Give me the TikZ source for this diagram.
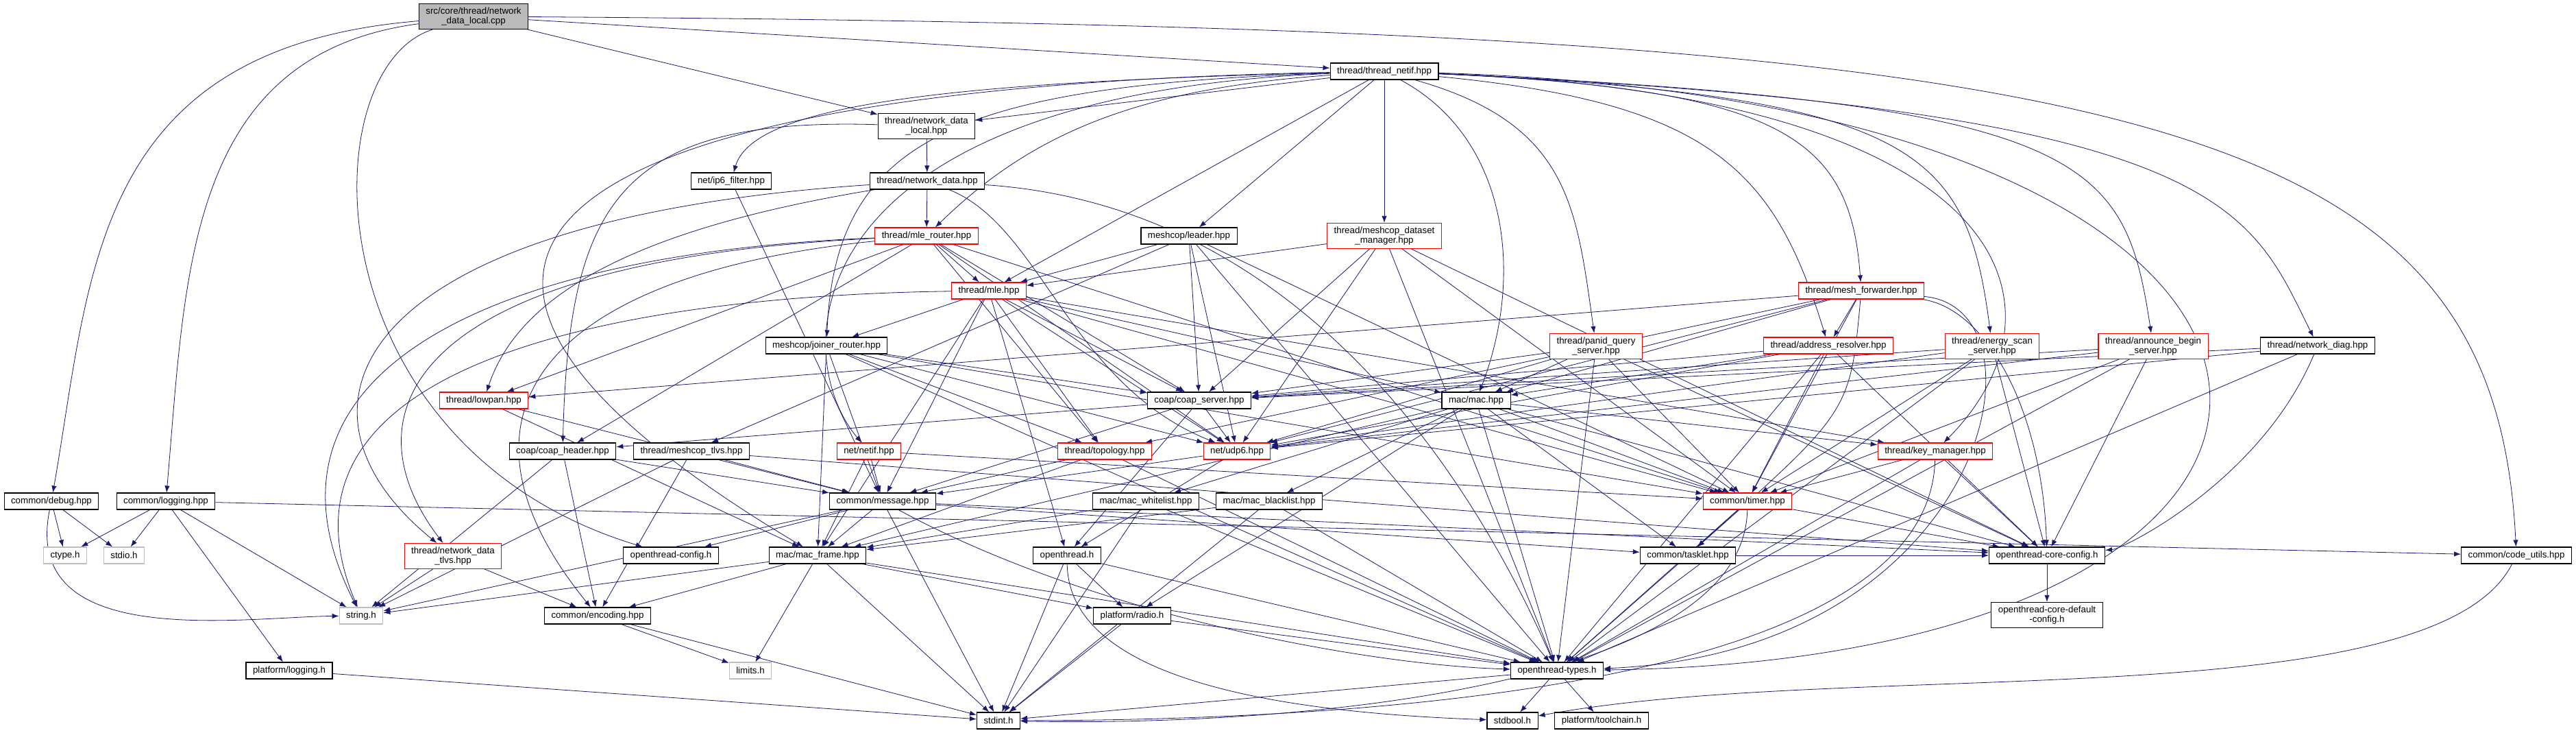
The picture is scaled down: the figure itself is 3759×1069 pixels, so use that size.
\documentclass[tikz,border=0pt]{standalone}
\usepackage{fontspec}
\setmainfont{Liberation Sans}
\usepackage{tikz}
\usetikzlibrary{arrows.meta, backgrounds}

\definecolor{edgeblue}{HTML}{191970}

\begin{document}
\begin{tikzpicture}[
  x=0.75pt, y=-0.75pt,
  file/.style={
    draw=black,
    fill=white,
    line width=0.8pt,
    inner xsep=7.5pt,
    inner ysep=4pt,
    minimum height=18pt,
    align=center,
    font=\fontsize{10}{10.5}\selectfont
  },
  redfile/.style={file, draw=red},
  sysfile/.style={file, draw=black!25},
  rootfile/.style={file, fill=black!27},
  edge/.style={-{Latex[length=7.5pt,width=5.5pt]}, line width=0.6pt, draw=edgeblue}
]
  \useasboundingbox (0,0) rectangle (3759,1069);

  % files, row by row
  \node[rootfile] (src) at (691,24) {src/core/thread/network\\\_data\_local.cpp};
  \node[file] (tnetif) at (2020,104) {thread/thread\_netif.hpp};
  \node[file] (ndlocal) at (1352,184) {thread/network\_data\\\_local.hpp};
  \node[file] (ndata) at (1353,264) {thread/network\_data.hpp};
  \node[file] (ip6f) at (1067,264) {net/ip6\_filter.hpp};
  \node[redfile] (mler) at (1352,344) {thread/mle\_router.hpp};
  \node[file] (leader) at (1735,344) {meshcop/leader.hpp};
  \node[redfile] (dsmgr) at (2020,344) {thread/meshcop\_dataset\\\_manager.hpp};
  \node[redfile] (mle) at (1443,424) {thread/mle.hpp};
  \node[redfile] (meshfw) at (2716,424) {thread/mesh\_forwarder.hpp};
  \node[file] (joinr) at (1206,504) {meshcop/joiner\_router.hpp};
  \node[redfile] (panid) at (2329,505) {thread/panid\_query\\\_server.hpp};
  \node[redfile] (addrres) at (2668,504) {thread/address\_resolver.hpp};
  \node[redfile] (energy) at (2907,505) {thread/energy\_scan\\\_server.hpp};
  \node[redfile] (announce) at (3142,505) {thread/announce\_begin\\\_server.hpp};
  \node[file] (ndiag) at (3382,504) {thread/network\_diag.hpp};
  \node[redfile] (lowpan) at (706,584) {thread/lowpan.hpp};
  \node[file] (coapsrv) at (1750,584) {coap/coap\_server.hpp};
  \node[file] (mac) at (2154,584) {mac/mac.hpp};
  \node[file] (coaphdr) at (821,658) {coap/coap\_header.hpp};
  \node[file] (mctlvs) at (1009,658) {thread/meshcop\_tlvs.hpp};
  \node[redfile] (netif) at (1268,658) {net/netif.hpp};
  \node[redfile] (topo) at (1612,658) {thread/topology.hpp};
  \node[redfile] (udp6) at (1805,658) {net/udp6.hpp};
  \node[redfile] (keymgr) at (2824,658) {thread/key\_manager.hpp};
  \node[file] (debug) at (75,731) {common/debug.hpp};
  \node[file] (logging) at (242,731) {common/logging.hpp};
  \node[file] (message) at (1288,731) {common/message.hpp};
  \node[file] (whitelist) at (1672,731) {mac/mac\_whitelist.hpp};
  \node[file] (blacklist) at (1852,731) {mac/mac\_blacklist.hpp};
  \node[redfile] (timer) at (2550,731) {common/timer.hpp};
  \node[sysfile] (ctype) at (95,810) {ctype.h};
  \node[sysfile] (stdio) at (181,810) {stdio.h};
  \node[redfile] (ndtlvs) at (661,811) {thread/network\_data\\\_tlvs.hpp};
  \node[file] (otconfig) at (979,810) {openthread-config.h};
  \node[file] (macframe) at (1193,810) {mac/mac\_frame.hpp};
  \node[file] (openthread) at (1557,810) {openthread.h};
  \node[file] (tasklet) at (2463,810) {common/tasklet.hpp};
  \node[file] (coreconfig) at (2987,810) {openthread-core-config.h};
  \node[file] (codeutils) at (3672,810) {common/code\_utils.hpp};
  \node[sysfile] (stringh) at (527,898) {string.h};
  \node[file] (encoding) at (872,898) {common/encoding.hpp};
  \node[file] (radio) at (1652,898) {platform/radio.h};
  \node[file] (defconfig) at (2987,897) {openthread-core-default\\-config.h};
  \node[file] (plog) at (422,978) {platform/logging.h};
  \node[sysfile] (limits) at (1095,978) {limits.h};
  \node[file] (types) at (2272,978) {openthread-types.h};
  \node[file] (stdint) at (1457,1051) {stdint.h};
  \node[file] (stdbool) at (2207,1051) {stdbool.h};
  \node[file] (toolchain) at (2337,1051) {platform/toolchain.h};

  \begin{scope}[on background layer]
  \fill[white] (0,0) rectangle (3759,1069);

  % the source file
  \draw[edge] (src) .. controls (133,70) and (133,400) .. (debug);
  \draw[edge] (src) .. controls (271,80) and (271,400) .. (logging);
  \draw[edge] (src) .. controls (452,100) and (452,650) .. (otconfig);
  \draw[edge] (src) -- (tnetif);
  \draw[edge] (src) -- (ndlocal);
  \draw[edge] (src) .. controls (3100,40) and (3640,150) .. (codeutils);

  % thread_netif
  \draw[edge] (tnetif) -- (ndlocal);
  \draw[edge] (tnetif) .. controls (1400,120) and (1100,150) .. (ip6f);
  \draw[edge] (tnetif) .. controls (1400,125) and (1219,200) .. (joinr);
  \draw[edge] (tnetif) .. controls (1150,140) and (1150,520) .. (netif);
  \draw[edge] (tnetif) .. controls (700,130) and (503,400) .. (macframe);
  \draw[edge] (tnetif) .. controls (1650,130) and (1500,200) .. (mler);
  \draw[edge] (tnetif) -- (mle);
  \draw[edge] (tnetif) -- (leader);
  \draw[edge] (tnetif) -- (dsmgr);
  \draw[edge] (tnetif) .. controls (2200,200) and (2225,400) .. (mac);
  \draw[edge] (tnetif) .. controls (2290,180) and (2300,300) .. (panid);
  \draw[edge] (tnetif) .. controls (2500,150) and (2590,250) .. (addrres);
  \draw[edge] (tnetif) .. controls (2600,130) and (2700,200) .. (meshfw);
  \draw[edge] (tnetif) .. controls (2800,140) and (2870,220) .. (energy);
  \draw[edge] (tnetif) .. controls (2950,140) and (3030,450) .. (keymgr);
  \draw[edge] (tnetif) .. controls (3050,150) and (3100,230) .. (announce);
  \draw[edge] (tnetif) .. controls (3250,160) and (3280,300) .. (ndiag);
  \draw[edge] (tnetif) .. controls (3550,150) and (3560,960) .. (types);

  % network data
  \draw[edge] (ndlocal) -- (ndata);
  \draw[edge] (ndlocal) .. controls (900,170) and (830,300) .. (coaphdr);
  \draw[edge] (ndata) -- (mler);
  \draw[edge] (ndata) .. controls (950,330) and (760,420) .. (lowpan);
  \draw[edge] (ndata) .. controls (500,320) and (400,600) .. (ndtlvs);
  \draw[edge] (ndata) .. controls (1520,330) and (1560,560) .. (udp6);
  \draw[edge] (ndata) .. controls (1900,300) and (2150,700) .. (types);
  \draw[edge] (ip6f) -- (message);

  % mle_router and mle
  \draw[edge] (mler) -- (mle);
  \draw[edge] (mler) -- (coapsrv);
  \draw[edge] (mler) -- (udp6);
  \draw[edge] (mler) -- (topo);
  \draw[edge] (mler) -- (lowpan);
  \draw[edge] (mler) -- (coaphdr);
  \draw[edge] (mler) -- (timer);
  \draw[edge] (mler) .. controls (700,370) and (350,550) .. (stringh);
  \draw[edge] (mler) .. controls (600,380) and (500,600) .. (ndtlvs);
  \draw[edge] (mler) .. controls (800,400) and (630,600) .. (encoding);
  \draw[edge] (mle) -- (joinr);
  \draw[edge] (mle) -- (coapsrv);
  \draw[edge] (mle) -- (topo);
  \draw[edge] (mle) -- (udp6);
  \draw[edge] (mle) -- (mac);
  \draw[edge] (mle) -- (keymgr);
  \draw[edge] (mle) -- (timer);
  \draw[edge] (mle) -- (message);
  \draw[edge] (mle) -- (macframe);
  \draw[edge] (mle) -- (openthread);
  \draw[edge] (mle) .. controls (1000,430) and (360,500) .. (stringh);

  % meshcop
  \draw[edge] (leader) -- (mle);
  \draw[edge] (leader) -- (coapsrv);
  \draw[edge] (leader) -- (udp6);
  \draw[edge] (leader) -- (mctlvs);
  \draw[edge] (leader) -- (timer);
  \draw[edge] (leader) -- (types);
  \draw[edge] (dsmgr) -- (mle);
  \draw[edge] (dsmgr) -- (coapsrv);
  \draw[edge] (dsmgr) -- (udp6);
  \draw[edge] (dsmgr) -- (timer);
  \draw[edge] (dsmgr) -- (types);
  \draw[edge] (dsmgr) -- (coreconfig);
  \draw[edge] (joinr) -- (coapsrv);
  \draw[edge] (joinr) -- (udp6);
  \draw[edge] (joinr) -- (topo);
  \draw[edge] (joinr) -- (message);
  \draw[edge] (joinr) -- (macframe);
  \draw[edge] (joinr) -- (timer);
  \draw[edge] (joinr) -- (types);

  % thread servers
  \draw[edge] (panid) -- (coapsrv);
  \draw[edge] (panid) -- (udp6);
  \draw[edge] (panid) -- (mac);
  \draw[edge] (panid) -- (timer);
  \draw[edge] (panid) -- (types);
  \draw[edge] (panid) -- (coreconfig);
  \draw[edge] (addrres) -- (coapsrv);
  \draw[edge] (addrres) -- (udp6);
  \draw[edge] (addrres) -- (mac);
  \draw[edge] (addrres) -- (timer);
  \draw[edge] (addrres) -- (types);
  \draw[edge] (addrres) -- (coreconfig);
  \draw[edge] (energy) -- (coapsrv);
  \draw[edge] (energy) -- (udp6);
  \draw[edge] (energy) -- (timer);
  \draw[edge] (energy) -- (types);
  \draw[edge] (energy) -- (coreconfig);
  \draw[edge] (announce) -- (coapsrv);
  \draw[edge] (announce) -- (udp6);
  \draw[edge] (announce) -- (timer);
  \draw[edge] (announce) -- (types);
  \draw[edge] (announce) -- (coreconfig);
  \draw[edge] (ndiag) -- (coapsrv);
  \draw[edge] (ndiag) -- (udp6);
  \draw[edge] (ndiag) -- (types);
  \draw[edge] (ndiag) .. controls (3300,700) and (3100,800) .. (coreconfig);

  % mesh forwarder
  \draw[edge] (meshfw) -- (addrres);
  \draw[edge] (meshfw) -- (lowpan);
  \draw[edge] (meshfw) -- (mac);
  \draw[edge] (meshfw) -- (topo);
  \draw[edge] (meshfw) -- (udp6);
  \draw[edge] (meshfw) -- (timer);
  \draw[edge] (meshfw) .. controls (2700,600) .. (tasklet);
  \draw[edge] (meshfw) .. controls (2900,450) and (2980,600) .. (coreconfig);
  \draw[edge] (meshfw) .. controls (3000,450) and (2900,950) .. (types);

  % coap, mac and net
  \draw[edge] (coapsrv) -- (coaphdr);
  \draw[edge] (coapsrv) -- (udp6);
  \draw[edge] (coapsrv) -- (message);
  \draw[edge] (coapsrv) -- (openthread);
  \draw[edge] (mac) -- (macframe);
  \draw[edge] (mac) -- (whitelist);
  \draw[edge] (mac) -- (blacklist);
  \draw[edge] (mac) -- (keymgr);
  \draw[edge] (mac) -- (timer);
  \draw[edge] (mac) -- (tasklet);
  \draw[edge] (mac) -- (radio);
  \draw[edge] (mac) -- (types);
  \draw[edge] (mac) -- (coreconfig);
  \draw[edge] (lowpan) -- (message);
  \draw[edge] (lowpan) -- (macframe);
  \draw[edge] (coaphdr) -- (message);
  \draw[edge] (coaphdr) -- (stringh);
  \draw[edge] (coaphdr) -- (encoding);
  \draw[edge] (mctlvs) -- (message);
  \draw[edge] (mctlvs) -- (stringh);
  \draw[edge] (mctlvs) -- (encoding);
  \draw[edge] (mctlvs) -- (coreconfig);
  \draw[edge] (netif) -- (message);
  \draw[edge] (netif) -- (macframe);
  \draw[edge] (netif) -- (timer);
  \draw[edge] (topo) -- (message);
  \draw[edge] (topo) -- (macframe);
  \draw[edge] (topo) -- (types);
  \draw[edge] (udp6) -- (message);
  \draw[edge] (udp6) -- (openthread);
  \draw[edge] (keymgr) -- (timer);
  \draw[edge] (keymgr) -- (types);
  \draw[edge] (keymgr) -- (coreconfig);
  \draw[edge] (keymgr) .. controls (2815,1000) and (2000,1050) .. (stdint);

  % common
  \draw[edge] (debug) -- (ctype);
  \draw[edge] (debug) -- (stdio);
  \draw[edge] (debug) .. controls (30,950) and (350,900) .. (stringh);
  \draw[edge] (logging) -- (ctype);
  \draw[edge] (logging) -- (stdio);
  \draw[edge] (logging) -- (stringh);
  \draw[edge] (logging) -- (plog);
  \draw[edge] (logging) -- (codeutils);
  \draw[edge] (message) -- (otconfig);
  \draw[edge] (message) -- (macframe);
  \draw[edge] (message) -- (stringh);
  \draw[edge] (message) -- (tasklet);
  \draw[edge] (message) -- (coreconfig);
  \draw[edge] (message) -- (stdint);
  \draw[edge] (message) .. controls (1600,900) and (2000,970) .. (types);
  \draw[edge] (whitelist) -- (macframe);
  \draw[edge] (whitelist) -- (types);
  \draw[edge] (whitelist) -- (stdint);
  \draw[edge] (blacklist) -- (macframe);
  \draw[edge] (blacklist) -- (types);
  \draw[edge] (blacklist) -- (stdint);
  \draw[edge] (timer) -- (tasklet);
  \draw[edge] (timer) -- (types);
  \draw[edge] (timer) -- (coreconfig);
  \draw[edge] (timer) .. controls (2545,1000) and (1900,1060) .. (stdint);
  \draw[edge] (tasklet) -- (types);
  \draw[edge] (tasklet) -- (coreconfig);
  \draw[edge] (ndtlvs) -- (stringh);
  \draw[edge] (ndtlvs) -- (encoding);

  % headers at the bottom
  \draw[edge] (macframe) -- (stringh);
  \draw[edge] (macframe) -- (encoding);
  \draw[edge] (macframe) -- (limits);
  \draw[edge] (macframe) -- (radio);
  \draw[edge] (macframe) -- (types);
  \draw[edge] (macframe) -- (stdint);
  \draw[edge] (openthread) -- (radio);
  \draw[edge] (openthread) -- (types);
  \draw[edge] (openthread) -- (stdint);
  \draw[edge] (openthread) .. controls (1560,1000) and (1900,1040) .. (stdbool);
  \draw[edge] (radio) -- (types);
  \draw[edge] (radio) -- (stdint);
  \draw[edge] (encoding) -- (limits);
  \draw[edge] (encoding) -- (stdint);
  \draw[edge] (coreconfig) -- (defconfig);
  \draw[edge] (codeutils) .. controls (3550,1050) and (2700,960) .. (stdbool);
  \draw[edge] (plog) -- (stdint);
  \draw[edge] (types) -- (stdint);
  \draw[edge] (types) -- (stdbool);
  \draw[edge] (types) -- (toolchain);
  \end{scope}
\end{tikzpicture}
\end{document}
